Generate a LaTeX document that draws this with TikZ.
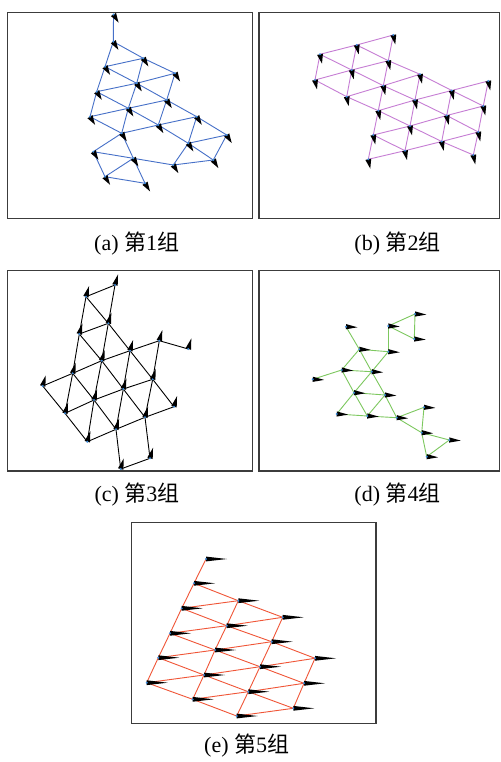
\documentclass[tikz,border=0pt]{standalone}
\usepackage{fontspec}
\setmainfont{Liberation Serif}
\newfontfamily\cjk{Noto Sans CJK SC}
\definecolor{ablue}{RGB}{70,112,200}
\definecolor{bpurple}{RGB}{198,125,212}
\definecolor{dgreen}{RGB}{125,200,95}
\definecolor{ered}{RGB}{240,85,55}
\definecolor{dotblue}{RGB}{60,140,220}
\definecolor{framegray}{RGB}{60,60,60}
\tikzset{
  frame/.style={draw=framegray,line width=1.1pt},
  aedge/.style={draw=ablue,line width=0.9pt},
  bedge/.style={draw=bpurple,line width=0.9pt},
  cedge/.style={draw=black,line width=0.9pt},
  dedge/.style={draw=dgreen,line width=0.9pt},
  eedge/.style={draw=ered,line width=0.9pt},
  caption/.style={inner sep=0pt,font=\fontsize{22}{26}\selectfont},
}
\newcommand\robmarks[4]{%
  \foreach \n in {#1}
    \fill[black,shift={(\n)},rotate=#2] (0,#4pt) -- (#3pt,0) -- (0,-#4pt) -- cycle;}
\newcommand\robdots[1]{%
  \foreach \n in {#1} \fill[dotblue] (\n) circle (1.1pt);}
\begin{document}
\begin{tikzpicture}[x=1pt,y=-1pt]
\useasboundingbox (0,0) rectangle (500,762);
\fill[white] (0,0) rectangle (500,762);
% frames
\draw[frame] (7.7,12.7) rectangle (252.7,218.3);
\draw[frame] (259,12.7) rectangle (499.2,218.3);
\draw[frame] (7.7,270.3) rectangle (252.7,471);
\draw[frame] (259,270.3) rectangle (499.2,471);
\draw[frame] (131.7,522.7) rectangle (376,723.3);

% ---------- (a)
\coordinate (a1) at (113.5,14.5);
\coordinate (a2) at (113.3,41.7);
\coordinate (a3) at (143.3,58.3);
\coordinate (a4) at (175,73.3);
\coordinate (a5) at (105,66.7);
\coordinate (a6) at (136.7,83.3);
\coordinate (a7) at (96.7,91.7);
\coordinate (a8) at (166.7,100);
\coordinate (a9) at (128.3,108.3);
\coordinate (a10) at (90,116.7);
\coordinate (a11) at (196.7,116.7);
\coordinate (a12) at (158.3,125);
\coordinate (a13) at (121.7,133.3);
\coordinate (a14) at (226.7,135);
\coordinate (a15) at (188.3,143.3);
\coordinate (a16) at (93.3,151.7);
\coordinate (a17) at (133.3,158.3);
\coordinate (a18) at (213.3,160);
\coordinate (a19) at (173.3,165);
\coordinate (a20) at (105,176.7);
\coordinate (a21) at (145,183.3);
\foreach \u/\v in {a1/a2,a2/a3,a3/a4,a2/a5,a5/a3,a5/a6,a6/a8,a8/a11,a11/a14,a5/a7,
  a3/a6,a6/a9,a9/a13,a4/a8,a8/a12,a7/a6,a6/a4,a7/a9,a9/a12,a12/a15,a15/a18,a7/a10,
  a10/a9,a9/a8,a10/a13,a13/a12,a12/a11,a11/a15,a15/a19,a15/a14,a14/a18,a13/a16,
  a13/a17,a16/a17,a17/a19,a19/a18,a16/a20,a17/a20,a20/a21,a17/a21}
  \draw[aedge] (\u) -- (\v);
\robmarks{a1,a2,a3,a4,a5,a6,a7,a8,a9,a10,a11,a12,a13,a14,a15,a16,a17,a18,a19,a20,a21}{-58}{9.5}{3}
\robdots{a1,a2,a3,a4,a5,a6,a7,a8,a9,a10,a11,a12,a13,a14,a15,a16,a17,a18,a19,a20,a21}

% ---------- (b)
\coordinate (b00) at (320,54.3);
\coordinate (b10) at (356.7,45);
\coordinate (b20) at (393.3,35);
\coordinate (b01) at (315,80);
\coordinate (b11) at (351.7,70);
\coordinate (b21) at (388.3,60.7);
\coordinate (b12) at (346.7,96.7);
\coordinate (b22) at (383.3,85.7);
\coordinate (b32) at (420,74.3);
\coordinate (b23) at (378.3,110.7);
\coordinate (b33) at (415,100);
\coordinate (b43) at (451.7,90.5);
\coordinate (b53) at (488.3,81);
\coordinate (b24) at (373.3,135);
\coordinate (b34) at (410,126);
\coordinate (b44) at (446.7,115.5);
\coordinate (b54) at (483.3,106);
\coordinate (b25) at (368.3,159.3);
\coordinate (b35) at (405,150.7);
\coordinate (b45) at (441.7,141.5);
\coordinate (b55) at (478.3,132);
\coordinate (b56) at (473.3,155);
\foreach \u/\v in {b00/b10,b10/b20,b01/b11,b11/b21,b12/b22,b22/b32,b23/b33,b33/b43,b43/b53,
  b24/b34,b34/b44,b44/b54,b25/b35,b35/b45,b45/b55,
  b00/b01,b10/b11,b20/b21,b11/b12,b21/b22,b22/b23,b32/b33,b23/b24,b33/b34,b43/b44,b53/b54,
  b24/b25,b34/b35,b44/b45,b54/b55,b55/b56,
  b00/b11,b10/b21,b01/b12,b11/b22,b21/b32,b12/b23,b22/b33,b32/b43,b23/b34,b33/b44,b43/b54,
  b24/b35,b34/b45,b44/b55,b45/b56}
  \draw[bedge] (\u) -- (\v);
\robmarks{b00,b10,b20,b01,b11,b21,b12,b22,b32,b23,b33,b43,b53,b24,b34,b44,b54,b25,b35,b45,b55,b56}{-78}{9.5}{3}
\robdots{b00,b10,b20,b01,b11,b21,b12,b22,b32,b23,b33,b43,b53,b24,b34,b44,b54,b25,b35,b45,b55,b56}

% ---------- (c)
\coordinate (c1) at (115,285);
\coordinate (c2) at (86,296.7);
\coordinate (c3) at (108.3,323.3);
\coordinate (c4) at (79.3,334);
\coordinate (c5) at (159.3,340.7);
\coordinate (c6) at (188.3,349);
\coordinate (c7) at (130,350.7);
\coordinate (c8) at (101.7,360.7);
\coordinate (c9) at (72.7,373.3);
\coordinate (c10) at (152.7,379.3);
\coordinate (c11) at (42.7,386);
\coordinate (c12) at (123.3,389);
\coordinate (c13) at (94,400);
\coordinate (c14) at (174,406.7);
\coordinate (c15) at (65,413.3);
\coordinate (c16) at (145,417.3);
\coordinate (c17) at (116,429.3);
\coordinate (c18) at (87.3,441.7);
\coordinate (c19) at (150,458.3);
\coordinate (c20) at (120.7,469);
\foreach \u/\v in {c1/c2,c1/c3,c2/c4,c2/c3,c4/c3,c3/c7,c3/c8,c4/c8,c4/c9,c11/c9,c9/c8,
  c8/c7,c7/c5,c5/c6,c5/c10,c7/c10,c7/c12,c8/c12,c8/c13,c9/c13,c9/c15,c11/c15,c15/c13,
  c13/c12,c12/c10,c10/c14,c10/c16,c12/c16,c12/c17,c13/c17,c13/c18,c15/c18,c18/c17,
  c17/c16,c16/c14,c16/c19,c17/c20,c20/c19}
  \draw[cedge] (\u) -- (\v);
\robmarks{c1,c2,c3,c4,c5,c6,c7,c8,c9,c10,c11,c12,c13,c14,c15,c16,c17,c18,c19,c20}{74}{11}{2.8}
\robdots{c1,c2,c3,c4,c5,c6,c7,c8,c9,c10,c11,c12,c13,c14,c15,c16,c17,c18,c19,c20}

% ---------- (d)
\coordinate (d1) at (346,326.7);
\coordinate (d2) at (388.3,326);
\coordinate (d3) at (415,314);
\coordinate (d4) at (414.3,339);
\coordinate (d5) at (359.3,349.3);
\coordinate (d6) at (388.3,351.7);
\coordinate (d7) at (341.7,370);
\coordinate (d8) at (371.7,371.7);
\coordinate (d9) at (312.7,379.3);
\coordinate (d10) at (354,392.7);
\coordinate (d11) at (385,395);
\coordinate (d12) at (336.7,414);
\coordinate (d13) at (367.3,416);
\coordinate (d14) at (396.7,417.7);
\coordinate (d15) at (424,407.3);
\coordinate (d16) at (421.7,432.7);
\coordinate (d17) at (449.3,440);
\coordinate (d18) at (426.7,456.7);
\foreach \u/\v in {d1/d5,d2/d3,d2/d4,d3/d4,d2/d6,d5/d6,d5/d7,d5/d8,d6/d8,d7/d8,d9/d7,
  d7/d10,d8/d10,d8/d11,d11/d14,d10/d11,d10/d12,d10/d13,d11/d13,d12/d13,d13/d14,
  d14/d15,d14/d16,d15/d16,d16/d17,d16/d18,d17/d18}
  \draw[dedge] (\u) -- (\v);
\robmarks{d1,d2,d3,d4,d5,d6,d7,d8,d9,d10,d11,d12,d13,d14,d15,d16,d17,d18}{-3}{11.5}{2.6}
\robdots{d1,d2,d3,d4,d5,d6,d7,d8,d9,d10,d11,d12,d13,d14,d15,d16,d17,d18}

% ---------- (e)
\coordinate (e1) at (206,559);
\coordinate (e2) at (194,583.3);
\coordinate (e3) at (238.3,600.7);
\coordinate (e4) at (181.7,608.3);
\coordinate (e5) at (282.7,617.3);
\coordinate (e6) at (226.7,625.7);
\coordinate (e7) at (170,633.3);
\coordinate (e8) at (271.7,641.7);
\coordinate (e9) at (215,650);
\coordinate (e10) at (158.3,657.7);
\coordinate (e11) at (315,658.3);
\coordinate (e12) at (260,666.7);
\coordinate (e13) at (204,675);
\coordinate (e14) at (146.7,682.7);
\coordinate (e15) at (304,683.3);
\coordinate (e16) at (248.3,691.7);
\coordinate (e17) at (192.7,699.3);
\coordinate (e18) at (293.3,708.3);
\coordinate (e19) at (236.7,716);
\foreach \u/\v in {e1/e2,e2/e4,e4/e7,e7/e10,e10/e14,e3/e6,e6/e9,e9/e13,e13/e17,
  e5/e8,e8/e12,e12/e16,e16/e19,e11/e15,e15/e18,
  e4/e3,e7/e6,e6/e5,e10/e9,e9/e8,e14/e13,e13/e12,e12/e11,e17/e16,e16/e15,e19/e18,
  e2/e3,e3/e5,e4/e6,e6/e8,e8/e11,e7/e9,e9/e12,e12/e15,e10/e13,e13/e16,e16/e18,
  e14/e17,e17/e19}
  \draw[eedge] (\u) -- (\v);
\robmarks{e1,e2,e3,e4,e5,e6,e7,e8,e9,e10,e11,e12,e13,e14,e15,e16,e17,e18,e19}{0}{21}{2.4}
\robdots{e1,e2,e3,e4,e5,e6,e7,e8,e9,e10,e11,e12,e13,e14,e15,e16,e17,e18,e19}

% ---------- captions
\node[caption] (capa) at (136.7,244) {(a) {\cjk 第}1{\cjk 组}};
\node[caption] (capb) at (397.5,244) {(b) {\cjk 第}2{\cjk 组}};
\node[caption] (capc) at (137,495) {(c) {\cjk 第}3{\cjk 组}};
\node[caption] (capd) at (397.5,495) {(d) {\cjk 第}4{\cjk 组}};
\node[caption] (cape) at (246.7,746) {(e) {\cjk 第}5{\cjk 组}};
\end{tikzpicture}
\end{document}
